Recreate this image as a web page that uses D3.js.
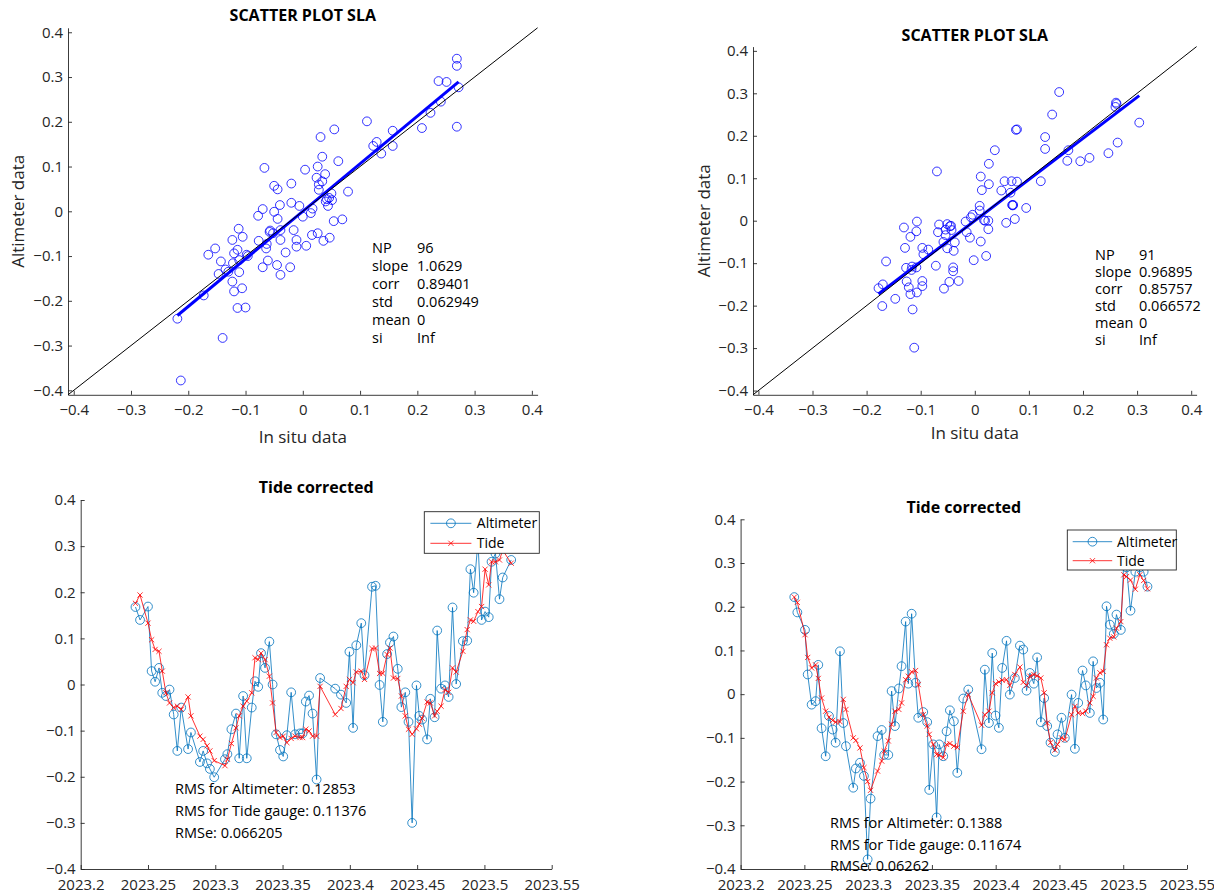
<!DOCTYPE html>
<html>
<head>
<meta charset="utf-8">
<script src="https://cdn.jsdelivr.net/npm/d3@7"></script>
<style>
  body { margin: 0; background: #fff; }
  svg { display: block; font-family: "Open Sans", sans-serif; }
</style>
</head>
<body>
<svg id="fig" width="1214" height="894"></svg>
<script>
"use strict";

// ---- scatter data: [in situ, altimeter] ----
const scatterLeft = [
  [0.269,0.341],[0.269,0.325],[0.237,0.291],[0.251,0.289],[0.272,0.277],[0.241,0.245],[0.223,0.220],[0.208,0.186],
  [0.269,0.189],[0.112,0.201],[0.157,0.180],[0.157,0.146],[0.123,0.146],[0.129,0.155],[0.137,0.129],[0.055,0.183],
  [0.031,0.166],[0.034,0.122],[0.062,0.112],[0.026,0.100],[0.004,0.093],[0.039,0.083],[0.024,0.075],[0.034,0.067],
  [0.028,0.060],[0.028,0.048],[0.079,0.044],[0.050,0.040],[0.042,0.027],[0.051,0.025],[0.040,0.022],[0.044,0.012],
  [-0.067,0.097],[-0.020,0.062],[-0.050,0.057],[-0.044,0.049],[-0.020,0.019],[-0.040,0.014],[-0.006,0.012],[-0.070,0.005],
  [-0.050,-0.001],[-0.078,-0.010],[-0.044,-0.017],[0.000,-0.012],[0.017,0.006],[0.014,-0.004],[0.054,-0.022],[0.069,-0.018],
  [-0.112,-0.039],[-0.105,-0.057],[-0.123,-0.064],[-0.057,-0.043],[-0.052,-0.049],[-0.039,-0.042],[-0.016,-0.042],[-0.077,-0.066],
  [-0.063,-0.073],[-0.039,-0.064],[-0.011,-0.064],[-0.011,-0.079],[0.006,-0.077],[0.016,-0.053],[0.026,-0.049],[0.036,-0.066],
  [0.047,-0.059],[-0.064,-0.083],[-0.030,-0.092],[-0.061,-0.110],[-0.070,-0.125],[-0.045,-0.120],[-0.022,-0.125],[-0.039,-0.142],
  [-0.153,-0.083],[-0.165,-0.097],[-0.114,-0.086],[-0.120,-0.094],[-0.098,-0.097],[-0.143,-0.112],[-0.147,-0.140],[-0.130,-0.135],
  [-0.122,-0.116],[-0.111,-0.136],[-0.111,-0.109],[-0.123,-0.157],[-0.106,-0.172],[-0.120,-0.179],[-0.173,-0.188],[-0.114,-0.216],
  [-0.100,-0.215],[-0.219,-0.240],[-0.140,-0.283],[-0.213,-0.378],[-0.135,-0.130],[-0.096,-0.100],[0.046,0.030],[-0.058,-0.046]
];
const scatterRight = [
  [0.156,0.303],[0.261,0.278],[0.260,0.268],[0.143,0.250],[0.304,0.231],[0.078,0.215],[0.076,0.214],[0.130,0.197],
  [0.264,0.184],[0.037,0.166],[0.130,0.169],[0.173,0.166],[0.171,0.141],[0.195,0.140],[0.212,0.148],[0.247,0.159],
  [0.026,0.134],[-0.070,0.116],[0.011,0.104],[0.026,0.086],[0.055,0.093],[0.068,0.093],[0.078,0.092],[0.122,0.093],
  [0.013,0.072],[0.049,0.071],[0.066,0.066],[0.071,0.037],[0.070,0.036],[0.095,0.030],[0.009,0.035],[0.009,0.024],
  [-0.004,0.014],[-0.007,0.008],[0.019,0.000],[0.025,0.000],[0.058,-0.005],[0.074,0.004],[-0.017,-0.002],[0.025,-0.020],
  [-0.015,-0.027],[-0.009,-0.040],[0.011,-0.049],[-0.002,-0.093],[0.021,-0.083],[-0.107,-0.002],[-0.131,-0.016],[-0.108,-0.025],
  [-0.066,-0.009],[-0.051,-0.008],[-0.044,-0.012],[-0.054,-0.021],[-0.068,-0.027],[-0.043,-0.022],[-0.054,-0.034],[-0.058,-0.050],
  [-0.037,-0.051],[-0.051,-0.065],[-0.039,-0.071],[-0.119,-0.038],[-0.129,-0.064],[-0.097,-0.064],[-0.086,-0.068],[-0.095,-0.079],
  [-0.164,-0.096],[-0.072,-0.106],[-0.127,-0.111],[-0.116,-0.108],[-0.117,-0.116],[-0.040,-0.110],[-0.040,-0.119],[-0.097,-0.142],
  [-0.097,-0.154],[-0.126,-0.143],[-0.122,-0.157],[-0.119,-0.173],[-0.107,-0.169],[-0.047,-0.144],[-0.030,-0.142],[-0.057,-0.160],
  [-0.178,-0.159],[-0.170,-0.150],[-0.171,-0.201],[-0.147,-0.184],[-0.115,-0.209],[-0.112,-0.299],[-0.046,-0.013],[0.069,0.037],
  [-0.108,-0.110],[0.262,0.275],[0.017,0.001]
];

const statLabels = ["NP", "slope", "corr", "std", "mean", "si"];
const statsLeft = ["96", "1.0629", "0.89401", "0.062949", "0", "Inf"];
const statsRight = ["91", "0.96895", "0.85757", "0.066572", "0", "Inf"];
const slopeLeft = 1.0629;
const slopeRight = 0.96895;

// ---- time series (decimal year) ----
const timeLeft = [
  2023.2407,2023.2441,2023.2500,2023.2527,2023.2553,2023.2582,2023.2606,2023.2633,2023.2660,2023.2691,
  2023.2718,2023.2747,2023.2798,2023.2819,2023.2886,2023.2910,2023.2939,2023.2960,2023.2992,2023.3072,
  2023.3090,2023.3120,2023.3154,2023.3178,2023.3207,2023.3234,2023.3271,2023.3295,2023.3319,2023.3340,
  2023.3370,2023.3402,2023.3426,2023.3452,2023.3481,2023.3505,2023.3532,2023.3564,2023.3593,2023.3630,
  2023.3649,2023.3673,2023.3697,2023.3723,2023.3753,2023.3779,2023.3891,2023.3934,2023.3973,2023.3997,
  2023.4024,2023.4048,2023.4085,2023.4109,2023.4165,2023.4191,2023.4221,2023.4245,2023.4277,2023.4298,
  2023.4324,2023.4356,2023.4383,2023.4412,2023.4436,2023.4463,2023.4495,2023.4516,2023.4537,2023.4574,
  2023.4598,2023.4630,2023.4649,2023.4678,2023.4707,2023.4734,2023.4763,2023.4790,2023.4840,2023.4872,
  2023.4896,2023.4920,2023.4952,2023.4979,2023.5005,2023.5032,2023.5053,2023.5082,2023.5112,2023.5136,
  2023.5199
];
const altimeterLeft = [
  0.168,0.140,0.169,0.029,0.006,0.036,-0.018,-0.025,-0.011,-0.065,
  -0.144,-0.050,-0.140,-0.104,-0.168,-0.144,-0.171,-0.183,-0.201,-0.162,
  -0.151,-0.097,-0.063,-0.160,-0.025,-0.160,-0.050,0.007,-0.005,0.068,
  0.036,0.093,0.000,-0.108,-0.142,-0.156,-0.110,-0.017,-0.108,-0.106,
  -0.106,-0.037,-0.024,-0.063,-0.206,0.014,-0.009,-0.022,-0.040,0.071,
  -0.094,0.085,0.133,0.020,0.212,0.214,-0.001,-0.081,0.066,0.091,
  0.104,0.034,-0.049,-0.017,-0.081,-0.300,-0.002,-0.068,-0.076,-0.119,
  -0.031,-0.071,0.117,-0.009,-0.002,-0.027,0.167,0.001,0.094,0.095,
  0.250,0.199,0.310,0.140,0.158,0.146,0.266,0.284,0.185,0.232,
  0.270
];
const tideLeft = [
  0.176,0.194,0.133,0.097,0.076,0.072,0.029,-0.018,-0.040,-0.050,
  -0.047,-0.054,-0.027,-0.068,-0.112,-0.119,-0.133,-0.144,-0.165,-0.176,
  -0.162,-0.128,-0.094,-0.068,-0.047,-0.036,-0.018,0.058,0.054,0.068,
  0.054,0.018,-0.040,-0.104,-0.115,-0.112,-0.126,-0.117,-0.112,-0.115,
  -0.115,-0.097,-0.101,-0.112,-0.112,-0.004,-0.065,-0.052,-0.004,0.011,
  0.004,0.027,0.029,0.011,0.078,0.079,0.024,0.024,0.065,0.079,
  0.014,0.013,-0.025,-0.068,-0.097,-0.108,-0.096,-0.086,-0.073,-0.038,
  -0.040,-0.068,-0.058,-0.047,-0.011,-0.017,0.036,0.027,0.072,0.119,
  0.140,0.137,0.158,0.169,0.250,0.216,0.266,0.266,0.270,0.291,
  0.263
];

const timeRight = [
  2023.2421,2023.2445,2023.2505,2023.2526,2023.2557,2023.2588,2023.2609,2023.2635,2023.2667,2023.2693,
  2023.2722,2023.2745,2023.2779,2023.2805,2023.2826,2023.2883,2023.2904,2023.2936,2023.2967,2023.2996,
  2023.3019,2023.3074,2023.3106,2023.3126,2023.3158,2023.3184,2023.3210,2023.3241,2023.3262,2023.3294,
  2023.3315,2023.3341,2023.3372,2023.3393,2023.3432,2023.3463,2023.3479,2023.3510,2023.3537,2023.3557,
  2023.3589,2023.3615,2023.3641,2023.3672,2023.3699,2023.3746,2023.3785,2023.3889,2023.3915,2023.3947,
  2023.3973,2023.3999,2023.4025,2023.4051,2023.4085,2023.4111,2023.4150,2023.4190,2023.4216,2023.4242,
  2023.4268,2023.4299,2023.4325,2023.4354,2023.4380,2023.4404,2023.4430,2023.4464,2023.4485,2023.4516,
  2023.4542,2023.4595,2023.4621,2023.4647,2023.4681,2023.4707,2023.4738,2023.4764,2023.4790,2023.4817,
  2023.4843,2023.4869,2023.4895,2023.4926,2023.4947,2023.4981,2023.5005,2023.5026,2023.5057,2023.5095,
  2023.5130,2023.5160,2023.5190
];
const altimeterRight = [
  0.222,0.187,0.147,0.045,-0.024,-0.016,0.067,-0.078,-0.142,-0.050,
  -0.081,-0.111,0.098,-0.066,-0.119,-0.214,-0.170,-0.157,-0.187,-0.378,
  -0.239,-0.096,-0.082,-0.139,-0.139,0.007,-0.073,0.013,0.064,0.166,
  0.024,0.184,0.026,-0.054,-0.041,-0.064,-0.219,-0.115,-0.282,-0.115,
  -0.142,-0.085,-0.037,-0.062,-0.180,-0.010,0.0105,-0.126,0.056,-0.066,
  0.094,-0.049,-0.077,0.060,0.122,-0.001,0.037,0.111,0.102,0.008,
  0.0485,0.024,0.084,-0.064,-0.009,-0.073,-0.111,-0.132,-0.092,-0.054,
  -0.100,-0.001,-0.125,-0.020,0.054,0.020,-0.043,0.075,0.014,0.026,
  -0.058,0.201,0.159,0.138,0.182,0.147,0.310,0.290,0.191,0.280,
  0.290,0.280,0.246
];
const tideRight = [
  0.222,0.210,0.136,0.084,0.060,0.067,0.036,-0.009,-0.039,-0.053,
  -0.060,-0.064,-0.063,-0.012,-0.035,-0.100,-0.106,-0.123,-0.168,-0.200,
  -0.220,-0.176,-0.153,-0.130,-0.107,-0.069,-0.039,-0.035,-0.020,0.033,
  0.041,0.051,0.054,0.022,-0.047,-0.073,-0.092,-0.115,-0.138,-0.139,
  -0.145,-0.115,-0.113,-0.119,-0.122,-0.039,-0.001,-0.071,-0.047,-0.039,
  0.003,0.024,0.028,0.032,0.033,0.020,0.045,0.062,0.027,0.020,
  0.041,0.045,0.042,0.037,0.003,-0.066,-0.111,-0.128,-0.115,-0.100,
  -0.104,-0.047,-0.028,-0.043,-0.044,-0.039,-0.020,-0.005,0.037,0.049,
  0.052,0.113,0.128,0.131,0.151,0.166,0.273,0.269,0.261,0.240,
  0.273,0.260,0.241
];

const rmsLeft = ["RMS for Altimeter: 0.12853", "RMS for Tide gauge: 0.11376", "RMSe: 0.066205"];
const rmsRight = ["RMS for Altimeter: 0.1388", "RMS for Tide gauge: 0.11674", "RMSe: 0.06262"];

const slaTicks = [-0.4, -0.3, -0.2, -0.1, 0, 0.1, 0.2, 0.3, 0.4];
const yearTickLabels = ["2023.2", "2023.25", "2023.3", "2023.35", "2023.4", "2023.45", "2023.5", "2023.55"];
const legendNames = ["Altimeter", "Tide"];

const AXIS_COLOR = "#262626";
const ALT_COLOR = "#0072BD";
const TIDE_COLOR = "#FF0000";

const svg = d3.select("#fig");

function fmtSla(v) {
  if (v === 0) return "0";
  return (v < 0 ? "\u2212" : "") + Math.abs(v).toString();
}

function styleAxis(sel) {
  sel.selectAll("path").attr("stroke", AXIS_COLOR).attr("stroke-width", 0.9);
  sel.selectAll("line").attr("stroke", AXIS_COLOR).attr("stroke-width", 0.9);
  sel.selectAll("text")
    .attr("fill", AXIS_COLOR)
    .style("font-size", "15px")
    .style("font-family", "'Open Sans', sans-serif");
}

function drawAxes(g, x, y, xTicks, xFormat) {
  const yAxis = d3.axisLeft(y)
    .tickValues(slaTicks)
    .tickFormat(fmtSla)
    .tickSizeInner(-4)
    .tickSizeOuter(0)
    .tickPadding(5);
  const xAxis = d3.axisBottom(x)
    .tickValues(xTicks)
    .tickFormat(xFormat)
    .tickSizeInner(-4)
    .tickSizeOuter(0)
    .tickPadding(10);

  g.append("g")
    .attr("transform", `translate(${x.range()[0]},0)`)
    .call(yAxis)
    .call(styleAxis);
  g.append("g")
    .attr("transform", `translate(0,${y.range()[0]})`)
    .call(xAxis)
    .call(styleAxis);
}

function drawTitle(g, text, cx, cy) {
  g.append("text")
    .attr("x", cx)
    .attr("y", cy)
    .attr("dy", "0.35em")
    .attr("text-anchor", "middle")
    .attr("font-size", 16)
    .attr("font-weight", 700)
    .attr("fill", "#000")
    .text(text);
}

function scatterPanel(cfg) {
  const g = svg.append("g");
  const x = d3.scaleLinear().domain([-0.41, 0.41]).range([cfg.left, cfg.right]);
  const y = d3.scaleLinear().domain([-0.41, 0.41]).range([cfg.bottom, cfg.top]);

  drawAxes(g, x, y, slaTicks, fmtSla);

  g.append("g").selectAll("circle")
    .data(cfg.points)
    .join("circle")
    .attr("cx", d => x(d[0]))
    .attr("cy", d => y(d[1]))
    .attr("r", 4.4)
    .attr("fill", "none")
    .attr("stroke", "#0000FF")
    .attr("stroke-width", 0.8);

  const line = d3.line().x(d => x(d[0])).y(d => y(d[1]));
  const xExtent = d3.extent(cfg.points, d => d[0]);
  const fit = xExtent.map(v => [v, cfg.slope * v]);
  g.append("path")
    .attr("d", line(fit))
    .attr("fill", "none")
    .attr("stroke", "#0000FF")
    .attr("stroke-width", 3);

  const diag = x.domain().map(v => [v, v]);
  g.append("path")
    .attr("d", line(diag))
    .attr("fill", "none")
    .attr("stroke", "#000")
    .attr("stroke-width", 1);

  const cx = (cfg.left + cfg.right) / 2;
  drawTitle(g, "SCATTER PLOT SLA", cx, cfg.titleY);

  g.append("text")
    .attr("transform", `translate(${cfg.yLabelX},${y(0)}) rotate(-90)`)
    .attr("dy", "0.35em")
    .attr("text-anchor", "middle")
    .attr("font-size", 17)
    .attr("fill", AXIS_COLOR)
    .text("Altimeter data");
  g.append("text")
    .attr("x", cx)
    .attr("y", cfg.xLabelY)
    .attr("dy", "0.35em")
    .attr("text-anchor", "middle")
    .attr("font-size", 17)
    .attr("fill", AXIS_COLOR)
    .text("In situ data");

  const stats = g.append("g");
  statLabels.forEach((label, i) => {
    const ty = cfg.statsY + i * cfg.statsStep;
    stats.append("text")
      .attr("x", cfg.statsX).attr("y", ty).attr("dy", "0.35em")
      .attr("font-size", 14.5).attr("fill", "#000")
      .text(label);
    stats.append("text")
      .attr("x", cfg.statsX + cfg.valueOffset).attr("y", ty).attr("dy", "0.35em")
      .attr("font-size", 14.5).attr("fill", "#000")
      .text(cfg.values[i]);
  });
}

function seriesPanel(cfg) {
  const g = svg.append("g");
  const yearTicks = yearTickLabels.map(Number);
  const x = d3.scaleLinear().domain([yearTicks[0], yearTicks[yearTicks.length - 1]]).range([cfg.left, cfg.right]);
  const y = d3.scaleLinear().domain([-0.4, 0.4]).range([cfg.bottom, cfg.top]);

  drawAxes(g, x, y, yearTicks, v => yearTickLabels[yearTicks.indexOf(v)]);

  const alt = cfg.time.map((t, i) => [t, cfg.alt[i]]);
  const tide = cfg.time.map((t, i) => [t, cfg.tide[i]]);
  const line = d3.line().x(d => x(d[0])).y(d => y(d[1]));

  g.append("path")
    .attr("d", line(alt))
    .attr("fill", "none")
    .attr("stroke", ALT_COLOR)
    .attr("stroke-width", 0.8);
  g.append("g").selectAll("circle")
    .data(alt)
    .join("circle")
    .attr("cx", d => x(d[0]))
    .attr("cy", d => y(d[1]))
    .attr("r", 4.4)
    .attr("fill", "none")
    .attr("stroke", ALT_COLOR)
    .attr("stroke-width", 0.8);

  g.append("path")
    .attr("d", line(tide))
    .attr("fill", "none")
    .attr("stroke", TIDE_COLOR)
    .attr("stroke-width", 0.8);
  const cross = (px, py, s) => `M${px - s},${py - s}L${px + s},${py + s}M${px - s},${py + s}L${px + s},${py - s}`;
  g.append("g").selectAll("path")
    .data(tide)
    .join("path")
    .attr("d", d => cross(x(d[0]), y(d[1]), 2.6))
    .attr("stroke", TIDE_COLOR)
    .attr("stroke-width", 0.8);

  drawTitle(g, "Tide corrected", (cfg.left + cfg.right) / 2, cfg.titleY);

  cfg.rms.forEach((txt, i) => {
    g.append("text")
      .attr("x", cfg.rmsX)
      .attr("y", cfg.rmsY + i * cfg.rmsStep)
      .attr("dy", "0.35em")
      .attr("font-size", 14.5)
      .attr("fill", "#000")
      .text(txt);
  });

  // legend
  const lg = cfg.legend;
  const leg = g.append("g");
  leg.append("rect")
    .attr("x", lg.x0).attr("y", lg.y0)
    .attr("width", lg.x1 - lg.x0).attr("height", lg.y1 - lg.y0)
    .attr("fill", "#fff")
    .attr("stroke", AXIS_COLOR)
    .attr("stroke-width", 0.9);
  legendNames.forEach((name, i) => {
    const ly = lg.rows[i];
    const color = i === 0 ? ALT_COLOR : TIDE_COLOR;
    leg.append("line")
      .attr("x1", lg.lineX0).attr("x2", lg.lineX1)
      .attr("y1", ly).attr("y2", ly)
      .attr("stroke", color).attr("stroke-width", 0.8);
    const mx = (lg.lineX0 + lg.lineX1) / 2;
    if (i === 0) {
      leg.append("circle")
        .attr("cx", mx).attr("cy", ly).attr("r", 4.4)
        .attr("fill", "none").attr("stroke", color).attr("stroke-width", 0.8);
    } else {
      leg.append("path")
        .attr("d", cross(mx, ly, 2.6))
        .attr("stroke", color).attr("stroke-width", 0.8);
    }
    leg.append("text")
      .attr("x", lg.textX).attr("y", ly).attr("dy", "0.35em")
      .attr("font-size", 14).attr("fill", "#000")
      .text(name);
  });
}

svg.append("rect").attr("width", 1214).attr("height", 894).attr("fill", "#fff");

scatterPanel({
  points: scatterLeft, slope: slopeLeft, values: statsLeft,
  left: 68, right: 537.6, top: 27.8, bottom: 394.8,
  titleY: 15, yLabelX: 18, xLabelY: 437.5,
  statsX: 372, statsY: 248.3, statsStep: 18, valueOffset: 45
});
scatterPanel({
  points: scatterRight, slope: slopeRight, values: statsRight,
  left: 753, right: 1196.6, top: 46.6, bottom: 394.8,
  titleY: 35, yLabelX: 704, xLabelY: 433.3,
  statsX: 1095, statsY: 255, statsStep: 17, valueOffset: 44
});
seriesPanel({
  time: timeLeft, alt: altimeterLeft, tide: tideLeft, rms: rmsLeft,
  left: 80.7, right: 551.7, top: 500, bottom: 869,
  titleY: 487.3, rmsX: 175, rmsY: 789.3, rmsStep: 22,
  legend: { x0: 424.3, x1: 539.3, y0: 511.7, y1: 553.3, rows: [523.3, 543.3],
            lineX0: 430.4, lineX1: 471.4, textX: 476.8 }
});
seriesPanel({
  time: timeRight, alt: altimeterRight, tide: tideRight, rms: rmsRight,
  left: 740.6, right: 1187, top: 519.3, bottom: 869,
  titleY: 507.3, rmsX: 830, rmsY: 823.3, rmsStep: 21.5,
  legend: { x0: 1067.3, x1: 1176.3, y0: 530, y1: 570, rows: [541.7, 560.7],
            lineX0: 1072.7, lineX1: 1112.2, textX: 1117 }
});
</script>
</body>
</html>
